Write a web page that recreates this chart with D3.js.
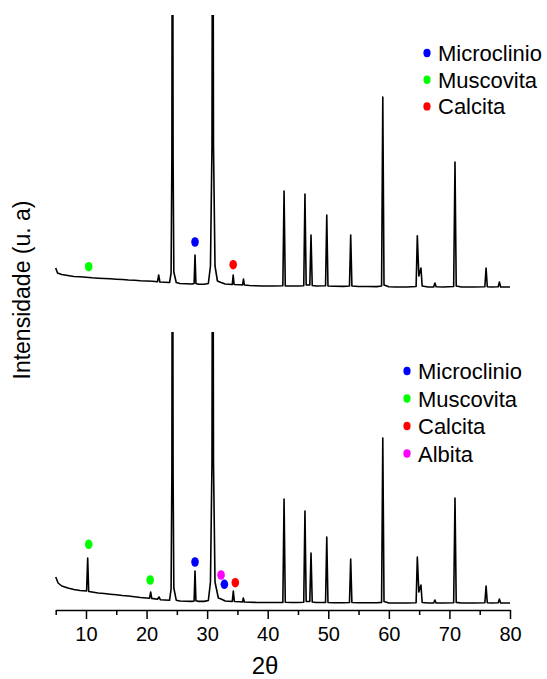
<!DOCTYPE html>
<html>
<head>
<meta charset="utf-8">
<script src="https://cdn.jsdelivr.net/npm/d3@7"></script>
<style>
  body { margin: 0; background: #fff; }
  svg text { font-family: "Liberation Sans", Arial, sans-serif; fill: #000; }
</style>
</head>
<body>
<svg class="xrd" width="547" height="679"></svg>
<script>
// pattern: 2theta and intensity (a.u.)
const topTheta = [5.0, 5.3, 6, 7, 8, 9, 10, 11, 12, 13, 14, 15, 16, 17, 18, 19, 20, 21, 21.8, 22.0, 22.2, 23, 23.8,
  24.05, 24.18, 24.28, 24.38, 24.5, 24.9, 25.5, 26.5, 27.5, 27.85, 28.0, 28.15, 28.6, 29.5, 30.2, 30.55, 30.8, 30.92,
  31.05, 31.3, 31.7, 32.3, 33, 34.15, 34.3, 34.45, 35.5, 35.85, 36.0, 36.15, 37, 38, 39, 40, 41, 42.5, 42.7, 42.9,
  44, 45, 45.95, 46.15, 46.35, 46.95, 47.15, 47.35, 48, 49.55, 49.75, 49.95, 51, 52.5, 53.5, 53.7, 53.9, 55, 56.5,
  58, 58.8, 59.0, 59.2, 60, 61, 62, 63, 64.5, 64.7, 64.95, 65.3, 65.5, 66.5, 67.4, 67.6, 67.8, 69, 70.7, 70.92, 71.12,
  72, 73, 74, 75.85, 76.05, 76.25, 77, 78.05, 78.25, 78.45, 79, 80];
const topCounts = [280, 230, 215, 205, 195, 192, 188, 182, 178, 175, 172, 168, 165, 160, 158, 152, 150, 148, 142, 210, 140, 138, 135,
  230, 1400, 6000, 1400, 240, 135, 125, 122, 120, 125, 410, 125, 118, 118, 125, 300, 1500, 6000,
  1500, 300, 150, 135, 120, 115, 210, 115, 112, 110, 170, 110, 105, 102, 100, 100, 100, 102, 1050, 100,
  100, 100, 102, 1020, 110, 110, 610, 105, 100, 102, 810, 100, 98, 96, 100, 610, 100, 95, 95,
  94, 100, 1990, 110, 92, 90, 90, 90, 95, 603, 200, 280, 100, 90, 90, 130, 92, 90, 95, 1340, 100,
  90, 90, 90, 92, 280, 92, 90, 92, 140, 90, 90, 90];

const bottomTheta = [5.0, 5.4, 6, 7, 8, 9, 10.1, 10.28, 10.45, 11, 12, 13, 14, 15, 16, 17, 18, 19, 20.5, 20.68, 20.85, 21.8,
  22.05, 22.3, 23, 23.8, 24.05, 24.18, 24.28, 24.38, 24.5, 24.9, 25.5, 26.5, 27.5, 27.85, 28.0, 28.15, 28.6, 29.5,
  30.2, 30.55, 30.8, 30.92, 31.05, 31.3, 31.85, 32.3, 33, 34.15, 34.32, 34.5, 35.5, 35.85, 35.97, 36.15, 37, 38, 40,
  42.5, 42.7, 42.9, 44, 45, 45.95, 46.15, 46.35, 46.95, 47.15, 47.35, 48, 49.55, 49.75, 49.95, 51, 52.5, 53.5, 53.7,
  53.9, 55, 56.5, 58, 58.8, 59.0, 59.2, 60, 61, 62, 63, 64.5, 64.7, 64.95, 65.3, 65.5, 66.5, 67.4, 67.6, 67.8, 69,
  70.7, 70.92, 71.12, 72, 73, 74, 75.85, 76.05, 76.25, 77, 78.05, 78.25, 78.45, 79, 80];
const bottomCounts = [350, 290, 260, 240, 225, 215, 210, 540, 205, 200, 190, 185, 178, 172, 165, 160, 152, 145, 138, 200, 136, 128,
  150, 122, 120, 118, 230, 1400, 6000, 1400, 240, 118, 110, 108, 106, 110, 410, 112, 106, 106,
  115, 300, 1500, 6000, 1500, 300, 140, 130, 110, 105, 210, 105, 102, 100, 140, 100, 98, 96, 95,
  96, 1130, 98, 95, 95, 98, 1010, 105, 105, 590, 100, 95, 96, 750, 95, 93, 92, 95, 530,
  95, 92, 92, 92, 96, 1740, 105, 90, 90, 90, 90, 92, 550, 200, 270, 95, 90, 90, 120, 90, 90,
  92, 1140, 96, 90, 90, 90, 92, 260, 92, 90, 92, 130, 90, 90, 90];

// phase markers
const topPhases = ['Microclinio', 'Muscovita', 'Calcita'];
const bottomPhases = ['Microclinio', 'Muscovita', 'Calcita', 'Albita'];
const phaseColors = { Microclinio: '#0000ff', Muscovita: '#00ff00', Calcita: '#ff0000', Albita: '#ff00ff' };

const topMarkPhase = ['Muscovita', 'Microclinio', 'Calcita'];
const topMarkTheta = [10.45, 28.0, 34.3];
const topMarkCounts = [293, 540, 313];

const bottomMarkPhase = ['Muscovita', 'Muscovita', 'Microclinio', 'Albita', 'Microclinio', 'Calcita'];
const bottomMarkTheta = [10.45, 20.6, 28.0, 32.3, 32.85, 34.65];
const bottomMarkCounts = [677, 320, 500, 370, 277, 293];

const majorTicks = [10, 20, 30, 40, 50, 60, 70, 80];
const minorTicks = [5, 15, 25, 35, 45, 55, 65, 75];

const svg = d3.select('.xrd');

const x = d3.scaleLinear()
    .domain([5, 80])
    .range([55.7, 510]);

const axisY = 610;

const panels = [
    { name: 'top', theta: topTheta, counts: topCounts, y: d3.scaleLinear().domain([0, 2810]).range([296, 15]),
      clip: [15, 300], markPhase: topMarkPhase, markTheta: topMarkTheta, markCounts: topMarkCounts,
      legend: topPhases, legendX: 427, legendY: 53, legendStep: 26.7 },
    { name: 'bottom', theta: bottomTheta, counts: bottomCounts, y: d3.scaleLinear().domain([0, 2800]).range([612, 332]),
      clip: [332, 615], markPhase: bottomMarkPhase, markTheta: bottomMarkTheta, markCounts: bottomMarkCounts,
      legend: bottomPhases, legendX: 407, legendY: 371, legendStep: 27.5 }
];

const defs = svg.append('defs');

panels.forEach(p => {
    defs.append('clipPath')
        .attr('id', `clip-${p.name}`)
        .append('rect')
        .attr('x', 0)
        .attr('y', p.clip[0])
        .attr('width', 547)
        .attr('height', p.clip[1] - p.clip[0]);

    const pts = p.theta.map((t, i) => [t, p.counts[i]]);

    const line = d3.line()
        .x(d => x(d[0]))
        .y(d => p.y(d[1]));

    svg.append('path')
        .datum(pts)
        .attr('clip-path', `url(#clip-${p.name})`)
        .attr('d', line)
        .attr('fill', 'none')
        .attr('stroke', '#000')
        .attr('stroke-width', 1.6)
        .attr('stroke-linejoin', 'round');

    svg.append('g')
        .selectAll('ellipse')
        .data(p.markPhase)
        .enter()
        .append('ellipse')
        .attr('cx', (d, i) => x(p.markTheta[i]))
        .attr('cy', (d, i) => p.y(p.markCounts[i]))
        .attr('rx', 3.8)
        .attr('ry', 4.8)
        .attr('fill', d => phaseColors[d]);

    const lg = svg.append('g');
    lg.selectAll('ellipse')
        .data(p.legend)
        .enter()
        .append('ellipse')
        .attr('cx', p.legendX)
        .attr('cy', (d, i) => p.legendY + i * p.legendStep)
        .attr('rx', 3.6)
        .attr('ry', 4.2)
        .attr('fill', d => phaseColors[d]);
    lg.selectAll('text')
        .data(p.legend)
        .enter()
        .append('text')
        .attr('x', p.legendX + 11)
        .attr('y', (d, i) => p.legendY + i * p.legendStep + 8)
        .attr('font-size', 22)
        .text(d => d);
});

// x axis: minor ticks then labelled major ticks
const minorAxis = d3.axisBottom(x)
    .tickValues(minorTicks)
    .tickSize(5)
    .tickSizeOuter(0)
    .tickFormat('');

const majorAxis = d3.axisBottom(x)
    .tickValues(majorTicks)
    .tickSize(9)
    .tickPadding(7.5)
    .tickFormat(d3.format('d'));

const minorG = svg.append('g')
    .attr('transform', `translate(0, ${axisY})`)
    .call(minorAxis);
minorG.selectAll('path, line').attr('stroke', '#000').attr('stroke-width', 1.5);

const majorG = svg.append('g')
    .attr('transform', `translate(0, ${axisY})`)
    .call(majorAxis);
majorG.select('.domain').remove();
majorG.selectAll('line').attr('stroke', '#000').attr('stroke-width', 1.5);
majorG.selectAll('text')
    .attr('font-size', 20)
    .attr('fill', '#000');

svg.append('text')
    .attr('x', 265)
    .attr('y', 674)
    .attr('text-anchor', 'middle')
    .attr('font-size', 24)
    .text('2θ');

svg.append('text')
    .attr('transform', 'translate(30, 290) rotate(-90)')
    .attr('text-anchor', 'middle')
    .attr('font-size', 23)
    .text('Intensidade (u. a)');
</script>
</body>
</html>
